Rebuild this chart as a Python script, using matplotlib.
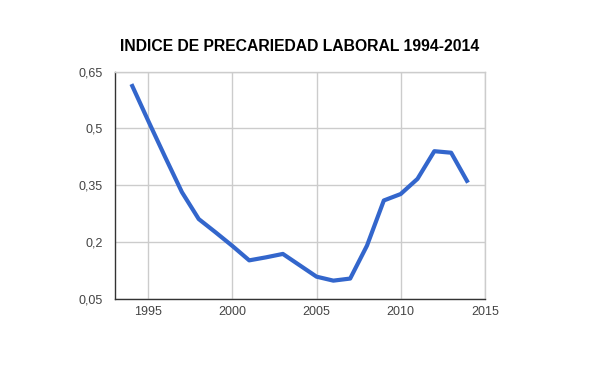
import matplotlib
matplotlib.use("Agg")
import matplotlib.pyplot as plt

# datos
years = list(range(1994, 2015))
indice = [0.617, 0.52, 0.425, 0.332, 0.261, 0.226, 0.19, 0.152, 0.16, 0.169,
          0.139, 0.109, 0.0985, 0.104, 0.191, 0.31, 0.327, 0.367, 0.44, 0.436, 0.357]

x_ticks = [1995, 2000, 2005, 2010, 2015]
y_ticks = [0.05, 0.2, 0.35, 0.5, 0.65]
y_labels = ["0,05", "0,2", "0,35", "0,5", "0,65"]

plt.rcParams["font.family"] = ["Liberation Sans", "DejaVu Sans"]

fig = plt.figure(figsize=(6, 3.71), dpi=100)
ax = fig.add_axes([0.191, 0.194, 0.617, 0.613])

ax.plot(years, indice, color="#3366cc", linewidth=3, solid_capstyle="butt", zorder=3)

ax.set_xlim(1993, 2015)
ax.set_ylim(0.05, 0.65)
ax.set_xticks(x_ticks)
ax.set_yticks(y_ticks)
ax.set_yticklabels(y_labels)
ax.grid(True, color="#cccccc", linewidth=1)
ax.set_axisbelow(True)

for s in ["top", "right"]:
    ax.spines[s].set_color("#cccccc")
    ax.spines[s].set_linewidth(1)
for s in ["left", "bottom"]:
    ax.spines[s].set_color("#333333")
    ax.spines[s].set_linewidth(1)

ax.tick_params(length=0, labelsize=9, labelcolor="#444444")
ax.tick_params(axis="x", pad=5)
ax.tick_params(axis="y", pad=8.5)

fig.text(0.5, 1 - 46.5 / 371, "INDICE DE PRECARIEDAD LABORAL 1994-2014",
         ha="center", va="center", fontsize=11.3, fontweight="bold", color="#000000")

fig.savefig("out.png", dpi=100)
